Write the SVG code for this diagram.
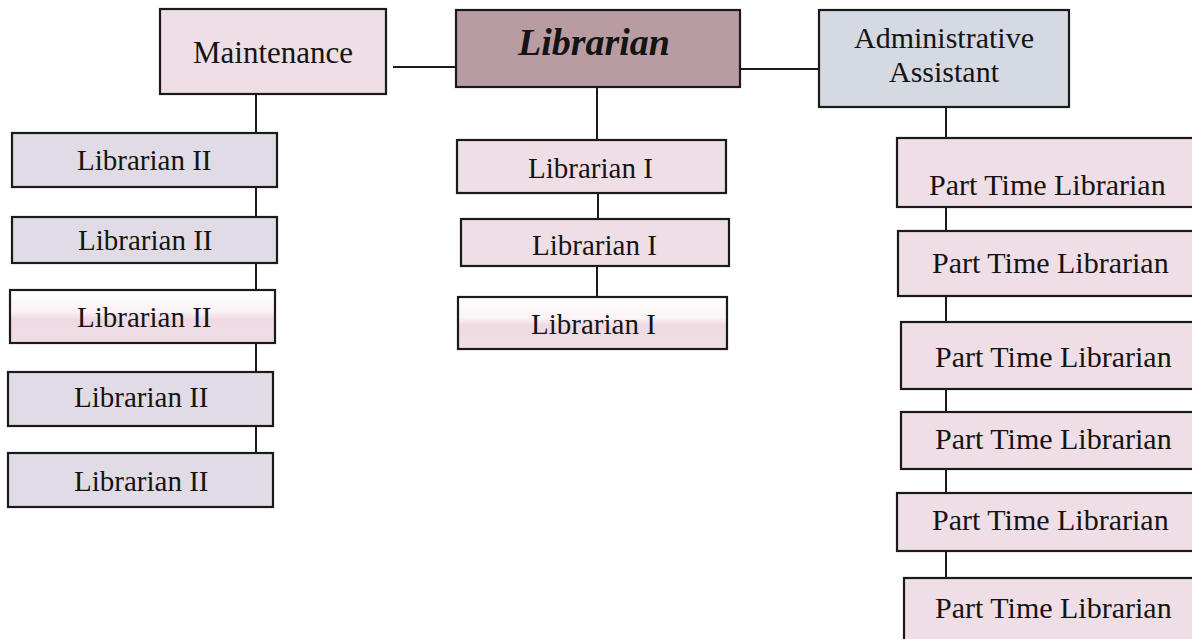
<svg xmlns="http://www.w3.org/2000/svg" width="1192" height="639" viewBox="0 0 1192 639">
<style>
.box{stroke:#1a1a1a;stroke-width:2.2}
.pink{fill:#efdee5}
.mix{fill:#e1dbe5}
.blue{fill:#d4d9e2}
.top{fill:#b99ca2}
.half{fill:url(#halfGrad)}
.t{font-family:"Liberation Serif","Times New Roman",serif;font-size:30px;fill:#141414}
.s29{font-size:29px}
.conn{stroke:#1a1a1a;stroke-width:2;fill:none}
</style>
<defs>
<linearGradient id="halfGrad" x1="0" y1="0" x2="0" y2="1">
<stop offset="0" stop-color="#ffffff"/>
<stop offset="0.4" stop-color="#fbf3f6"/>
<stop offset="0.55" stop-color="#f0d9e2"/>
<stop offset="1" stop-color="#efdee5"/>
</linearGradient>
</defs>
<rect width="1192" height="639" fill="#ffffff"/>
<g id="connectors">
<line class="conn" x1="393" y1="67" x2="456" y2="67"/>
<line class="conn" x1="740" y1="69" x2="819" y2="69"/>
<line class="conn" x1="256" y1="94" x2="256" y2="453"/>
<line class="conn" x1="597" y1="87" x2="597" y2="140"/>
<line class="conn" x1="598" y1="193" x2="598" y2="219"/>
<line class="conn" x1="597" y1="266" x2="597" y2="297"/>
<line class="conn" x1="946" y1="107" x2="946" y2="578"/>
</g>
<g id="librarian">
<rect class="box top" x="456" y="10" width="284" height="77"/>
<text class="t" x="594" y="55" text-anchor="middle" style="font-size:38px;font-weight:bold;font-style:italic">Librarian</text>
</g>
<g id="maintenance">
<rect class="box pink" x="160" y="9" width="226" height="85"/>
<text class="t" x="273" y="63" text-anchor="middle" style="font-size:31px">Maintenance</text>
</g>
<g id="admin">
<rect class="box blue" x="819" y="10" width="250" height="97"/>
<text class="t" x="944" y="48" text-anchor="middle">Administrative</text>
<text class="t" x="944" y="82" text-anchor="middle">Assistant</text>
</g>
<g id="lib2-1"><rect class="box mix" x="12" y="133" width="265" height="54"/><text class="t s29" x="77" y="170">Librarian II</text></g>
<g id="lib2-2"><rect class="box mix" x="12" y="217" width="265" height="46"/><text class="t s29" x="78" y="250">Librarian II</text></g>
<g id="lib2-3"><rect class="box half" x="10" y="290" width="265" height="53"/><text class="t s29" x="77" y="327">Librarian II</text></g>
<g id="lib2-4"><rect class="box mix" x="8" y="372" width="265" height="54"/><text class="t s29" x="74" y="407">Librarian II</text></g>
<g id="lib2-5"><rect class="box mix" x="8" y="453" width="265" height="54"/><text class="t s29" x="74" y="491">Librarian II</text></g>
<g id="lib1-1"><rect class="box pink" x="457" y="140" width="269" height="53"/><text class="t s29" x="528" y="178">Librarian I</text></g>
<g id="lib1-2"><rect class="box pink" x="461" y="219" width="268" height="47"/><text class="t s29" x="532" y="255">Librarian I</text></g>
<g id="lib1-3"><rect class="box half" x="458" y="297" width="269" height="52"/><text class="t s29" x="531" y="334">Librarian I</text></g>
<g id="pt-1"><rect class="box pink" x="897" y="138" width="300" height="69"/><text class="t" x="929" y="195">Part Time Librarian</text></g>
<g id="pt-2"><rect class="box pink" x="898" y="231" width="300" height="65"/><text class="t" x="932" y="273">Part Time Librarian</text></g>
<g id="pt-3"><rect class="box pink" x="901" y="322" width="300" height="67"/><text class="t" x="935" y="367">Part Time Librarian</text></g>
<g id="pt-4"><rect class="box pink" x="901" y="412" width="300" height="57"/><text class="t" x="935" y="449">Part Time Librarian</text></g>
<g id="pt-5"><rect class="box pink" x="897" y="493" width="300" height="58"/><text class="t" x="932" y="530">Part Time Librarian</text></g>
<g id="pt-6"><rect class="box pink" x="904" y="578" width="300" height="80"/><text class="t" x="935" y="618">Part Time Librarian</text></g>
</svg>
